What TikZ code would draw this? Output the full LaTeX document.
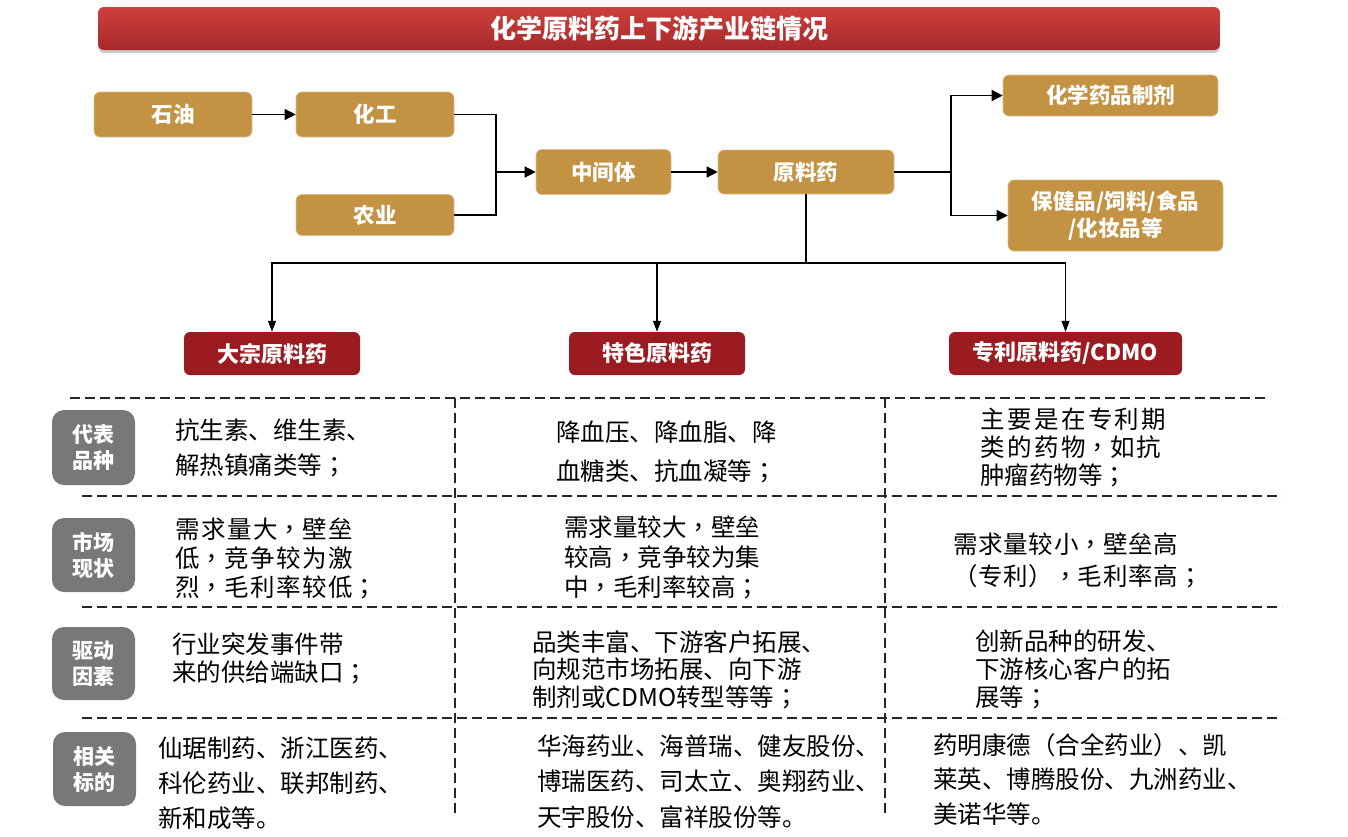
\documentclass[tikz,border=0pt]{standalone}
\usepackage{fontspec}
\setmainfont{Noto Sans CJK SC}
\newfontfamily\tcpunct{Noto Sans CJK TC}
\usetikzlibrary{arrows.meta,shadows}
\definecolor{goldc}{HTML}{C49243}
\definecolor{redc}{HTML}{9B1B21}
\definecolor{greyc}{HTML}{787878}
\definecolor{titletop}{HTML}{CE3F3B}
\definecolor{titlebot}{HTML}{A52A2B}
\newcommand{\lsp}[2]{{\addfontfeature{LetterSpace=#1}#2}}
\newcommand{\cm}{{\tcpunct ，}}
\newcommand{\sm}{{\tcpunct ；}}
\begin{document}
\begin{tikzpicture}[x=1pt,y=-1pt,
  goldbox/.style={fill=goldc, draw=goldc!60!white, line width=0.6pt, rounded corners=6pt, text=white,
    font=\bfseries\fontsize{21.5}{27}\selectfont, align=center, inner sep=0pt},
  redbox/.style={fill=redc, rounded corners=6pt, text=white,
    font=\bfseries\fontsize{22}{27}\selectfont, align=center, inner sep=0pt},
  greybox/.style={fill=greyc, rounded corners=12pt, text=white,
    font=\bfseries\fontsize{21}{26}\selectfont, align=center, inner sep=0pt,
    minimum width=83pt},
  titlebox/.style={rounded corners=6pt, top color=titletop, bottom color=titlebot, text=white,
    font=\bfseries\fontsize{26}{30}\selectfont, inner sep=0pt,
    drop shadow={shadow xshift=0pt, shadow yshift=-3pt, opacity=0.35, fill=black!60}},
  celltext/.style={anchor=west, inner sep=0pt, align=left, text=black},
  link/.style={draw=black, line width=1.3pt},
  arr/.style={link, -{Triangle[length=11pt,width=11pt]}},
  darr/.style={link, -{Triangle[length=11pt,width=8pt]}},
  gridline/.style={draw=black!85, line width=1.2pt, dash pattern=on 10pt off 5pt},
]
\useasboundingbox (0,0) rectangle (1348,836);

% title
\node[titlebox, minimum width=1122pt, minimum height=43pt] (title) at (659,28.5) {化学原料药上下游产业链情况};

% upper flow
\node[goldbox, minimum width=158pt, minimum height=45pt] (oil) at (173,114.5) {石油};
\node[goldbox, minimum width=158pt, minimum height=45pt] (chem) at (375,114.5) {化工};
\node[goldbox, minimum width=158pt, minimum height=41pt] (agri) at (375,215) {农业};
\node[goldbox, minimum width=135pt, minimum height=45pt] (mid) at (603.5,172) {中间体};
\node[goldbox, minimum width=176pt, minimum height=44pt] (api) at (806,172) {原料药};
\node[goldbox, minimum width=215pt, minimum height=41pt] (prep) at (1110.5,95.5) {化学药品制剂};
\node[goldbox, minimum width=215pt, minimum height=71pt] (health) at (1115.5,215.5) {保健品/饲料/食品\\/化妆品等};

\node[redbox, minimum width=176pt, minimum height=43pt] (bulk) at (272,353.5) {大宗原料药};
\node[redbox, minimum width=176pt, minimum height=43pt] (spec) at (657,353.5) {特色原料药};
\node[redbox, minimum width=233pt, minimum height=43pt] (pat) at (1065.5,353.5) {专利原料药/CDMO};

\coordinate (j1) at (496,172);
\coordinate (j2) at (951,172);
\coordinate (j3) at (806,263);

\draw[arr] (oil.east) -- (chem.west);
\draw[link] (chem.east) -| (j1);
\draw[link] (agri.east) -| (j1);
\draw[arr] (j1) -- (mid.west);
\draw[arr] (mid.east) -- (api.west);
\draw[link] (api.east) -- (j2);
\draw[arr] (j2) |- (prep.west);
\draw[arr] (j2) |- (health.west);
\draw[link] (api.south) -- (j3);
\draw[darr] (j3) -| (bulk.north);
\draw[darr] (j3) -| (spec.north);
\draw[darr] (j3) -| (pat.north);

% table grid
\draw[gridline] (70,398) -- (1270,398);
\draw[gridline] (82,496) -- (1282,496);
\draw[gridline] (82,607) -- (1282,607);
\draw[gridline] (82,718) -- (1282,718);
\draw[gridline] (455,398) -- (455,815);
\draw[gridline] (885,398) -- (885,815);

% row labels
\node[greybox, minimum height=75pt] (l1) at (93.5,447.5) {代表\\品种};
\node[greybox, minimum height=74pt] (l2) at (93.5,555) {市场\\现状};
\node[greybox, minimum height=73pt] (l3) at (93.5,663.5) {驱动\\因素};
\node[greybox, minimum height=74pt] (l4) at (94.5,769) {相关\\标的};

% column 1
\node[celltext, font=\fontsize{24.5}{35}\selectfont] (c11) at (175,447.5) {抗生素、维生素、\\解热镇痛类等\sm};
\node[celltext, font=\fontsize{24.5}{29}\selectfont] (c12) at (175,558) {\lsp{6}{需求量大\cm 壁垒}\\\lsp{6}{低\cm 竞争较为激}\\\lsp{6}{烈\cm 毛利率较低\sm}};
\node[celltext, font=\fontsize{24.5}{28}\selectfont] (c13) at (172,658) {行业突发事件带\\来的供给端缺口\sm};
\node[celltext, font=\fontsize{24.5}{35}\selectfont] (c14) at (158,783) {仙琚制药、浙江医药、\\科伦药业、联邦制药、\\新和成等。};

% column 2
\node[celltext, font=\fontsize{24.5}{38.5}\selectfont] (c21) at (556,452) {降血压、降血脂、降\\血糖类、抗血凝等\sm};
\node[celltext, font=\fontsize{24.5}{30}\selectfont] (c22) at (564,557) {需求量较大\cm 壁垒\\较高\cm 竞争较为集\\中\cm 毛利率较高\sm};
\node[celltext, font=\fontsize{24.5}{27.5}\selectfont] (c23) at (532,669.5) {品类丰富、下游客户拓展、\\向规范市场拓展、向下游\\制剂或CDMO转型等等\sm};
\node[celltext, font=\fontsize{24.5}{35.5}\selectfont] (c24) at (537,781.5) {华海药业、海普瑞、健友股份、\\博瑞医药、司太立、奥翔药业、\\天宇股份、富祥股份等。};

% column 3
\node[celltext, font=\fontsize{24.5}{28}\selectfont] (c31) at (980,447) {\lsp{10}{主要是在专利期}\\\lsp{10}{类的药物\cm 如抗}\\肿瘤药物等\sm};
\node[celltext, font=\fontsize{24.5}{32}\selectfont] (c32) at (953,560) {\lsp{3}{需求量较小\cm 壁垒高}\\\lsp{3}{（专利）\cm 毛利率高\sm}};
\node[celltext, font=\fontsize{24.5}{28}\selectfont] (c33) at (975,669) {创新品种的研发、\\下游核心客户的拓\\展等\sm};
\node[celltext, font=\fontsize{24.5}{34.5}\selectfont] (c34) at (933,779) {药明康德（合全药业）、凯\\莱英、博腾股份、九洲药业、\\美诺华等。};
\end{tikzpicture}
\end{document}
